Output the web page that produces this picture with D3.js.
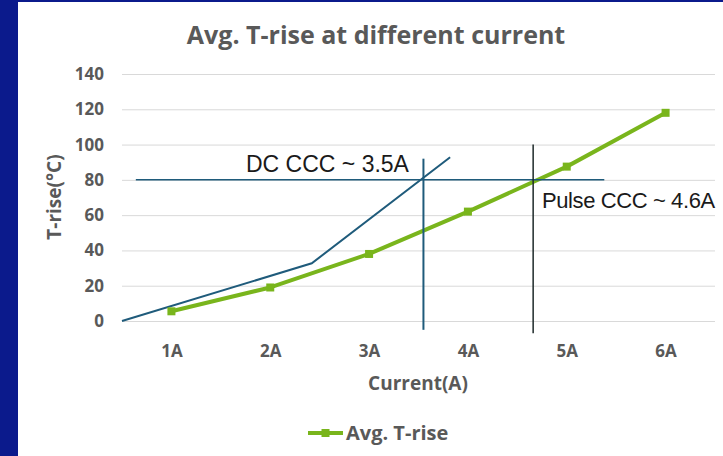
<!DOCTYPE html>
<html>
<head>
<meta charset="utf-8">
<script src="https://cdn.jsdelivr.net/npm/d3@7"></script>
<style>
  html, body { margin: 0; padding: 0; background: #0b1a8c; overflow: hidden; }
  svg { display: block; }
</style>
</head>
<body>
<svg id="chart" width="723" height="456"></svg>
<script>
// Measured temperature rise per test current
const categories = ["1A", "2A", "3A", "4A", "5A", "6A"];
const categoryCurrent = [1, 2, 3, 4, 5, 6];
const avgTrise = [5.5, 19, 38, 62, 87.5, 118];

// DC trend line (current in A, rise in °C)
const dcCurrent = [0.5, 2.42, 3.82];
const dcTrise = [0, 32.7, 92.8];

const yTicks = [0, 20, 40, 60, 80, 100, 120, 140];

// Current-carrying-capacity reference lines
const cccThreshold = 80;
const thresholdSpan = [0.64, 5.38];
const dcCcc = 3.55;
const dcSpan = [-5, 92];
const pulseCcc = 4.66;
const pulseSpan = [-7, 100];

const FONT = "'Open Sans', 'Noto Sans', sans-serif";
const NOTE_FONT = "'Liberation Sans', Arial, sans-serif";
const GREY = "#595959";
const GREEN = "#79b51c";
const TEAL = "#1f5b7b";

const svg = d3.select("#chart");

// white card
svg.append("rect").attr("x", 18).attr("y", 2).attr("width", 705).attr("height", 454).attr("fill", "#ffffff");

const x = d3.scaleLinear().domain([0.5, 6.5]).range([122, 715]);
const y = d3.scaleLinear().domain([0, 140]).range([321, 74]);

// y axis with gridlines
const yAxis = svg.append("g")
  .attr("transform", `translate(${x.range()[0]},0)`)
  .call(d3.axisLeft(y).tickValues(yTicks).tickSize(-(x.range()[1] - x.range()[0])).tickPadding(18));
yAxis.select(".domain").remove();
yAxis.selectAll(".tick line").attr("stroke", "#d9d9d9").attr("stroke-width", 1);
yAxis.selectAll(".tick text")
  .attr("fill", GREY).attr("font-family", FONT).attr("font-weight", 700).attr("font-size", 17);

// x axis labels
const xAxis = svg.append("g")
  .attr("transform", `translate(0,${y(0)})`)
  .call(d3.axisBottom(x).tickValues(categoryCurrent).tickFormat((d, i) => categories[i]).tickSize(0).tickPadding(24));
xAxis.select(".domain").remove();
xAxis.selectAll(".tick text")
  .attr("fill", GREY).attr("font-family", FONT).attr("font-weight", 700).attr("font-size", 17);

// title
svg.append("text")
  .attr("x", 376).attr("y", 44).attr("text-anchor", "middle")
  .attr("fill", GREY).attr("font-family", FONT).attr("font-weight", 700).attr("font-size", 25)
  .text("Avg. T-rise at different current");

// axis titles
svg.append("text")
  .attr("x", 418).attr("y", 390).attr("text-anchor", "middle")
  .attr("fill", GREY).attr("font-family", FONT).attr("font-weight", 700).attr("font-size", 19)
  .text("Current(A)");
svg.append("text")
  .attr("transform", "translate(61,197) rotate(-90)").attr("text-anchor", "middle")
  .attr("fill", GREY).attr("font-family", FONT).attr("font-weight", 700).attr("font-size", 19)
  .text("T-rise(°C)");

// DC trend line
const dcPts = dcCurrent.map((c, i) => [c, dcTrise[i]]);
svg.append("path")
  .attr("d", d3.line().x(d => x(d[0])).y(d => y(d[1]))(dcPts))
  .attr("fill", "none").attr("stroke", TEAL).attr("stroke-width", 2);

// measured series
const pts = categoryCurrent.map((c, i) => [c, avgTrise[i]]);
svg.append("path")
  .attr("d", d3.line().x(d => x(d[0])).y(d => y(d[1]))(pts))
  .attr("fill", "none").attr("stroke", GREEN).attr("stroke-width", 4).attr("stroke-linejoin", "round");
svg.append("g").selectAll("rect").data(pts).join("rect")
  .attr("x", d => x(d[0]) - 4).attr("y", d => y(d[1]) - 4)
  .attr("width", 8).attr("height", 8).attr("fill", GREEN);

// threshold line
svg.append("line")
  .attr("x1", x(thresholdSpan[0])).attr("x2", x(thresholdSpan[1]))
  .attr("y1", y(cccThreshold)).attr("y2", y(cccThreshold))
  .attr("stroke", TEAL).attr("stroke-width", 1.5);

// DC CCC marker
svg.append("line")
  .attr("x1", x(dcCcc)).attr("x2", x(dcCcc))
  .attr("y1", y(dcSpan[1])).attr("y2", y(dcSpan[0]))
  .attr("stroke", TEAL).attr("stroke-width", 2);

// Pulse CCC marker
svg.append("line")
  .attr("x1", x(pulseCcc)).attr("x2", x(pulseCcc))
  .attr("y1", y(pulseSpan[1])).attr("y2", y(pulseSpan[0]))
  .attr("stroke", "#1e2a2a").attr("stroke-width", 1.5);

// annotations
svg.append("text")
  .attr("x", 246).attr("y", 172)
  .attr("fill", "#1a1a1a").attr("font-family", NOTE_FONT).attr("font-size", 23)
  .text("DC CCC ~ 3.5A");
svg.append("text")
  .attr("x", 542).attr("y", 208)
  .attr("fill", "#1a1a1a").attr("font-family", NOTE_FONT).attr("font-size", 22)
  .attr("letter-spacing", -0.4)
  .text("Pulse CCC ~ 4.6A");

// legend
const lg = svg.append("g");
lg.append("line").attr("x1", 308).attr("x2", 343).attr("y1", 433).attr("y2", 433)
  .attr("stroke", GREEN).attr("stroke-width", 4);
lg.append("rect").attr("x", 321.5).attr("y", 429).attr("width", 8).attr("height", 8).attr("fill", GREEN);
lg.append("text").attr("x", 346).attr("y", 440)
  .attr("fill", GREY).attr("font-family", FONT).attr("font-weight", 700).attr("font-size", 20)
  .text("Avg. T-rise");
</script>
</body>
</html>
